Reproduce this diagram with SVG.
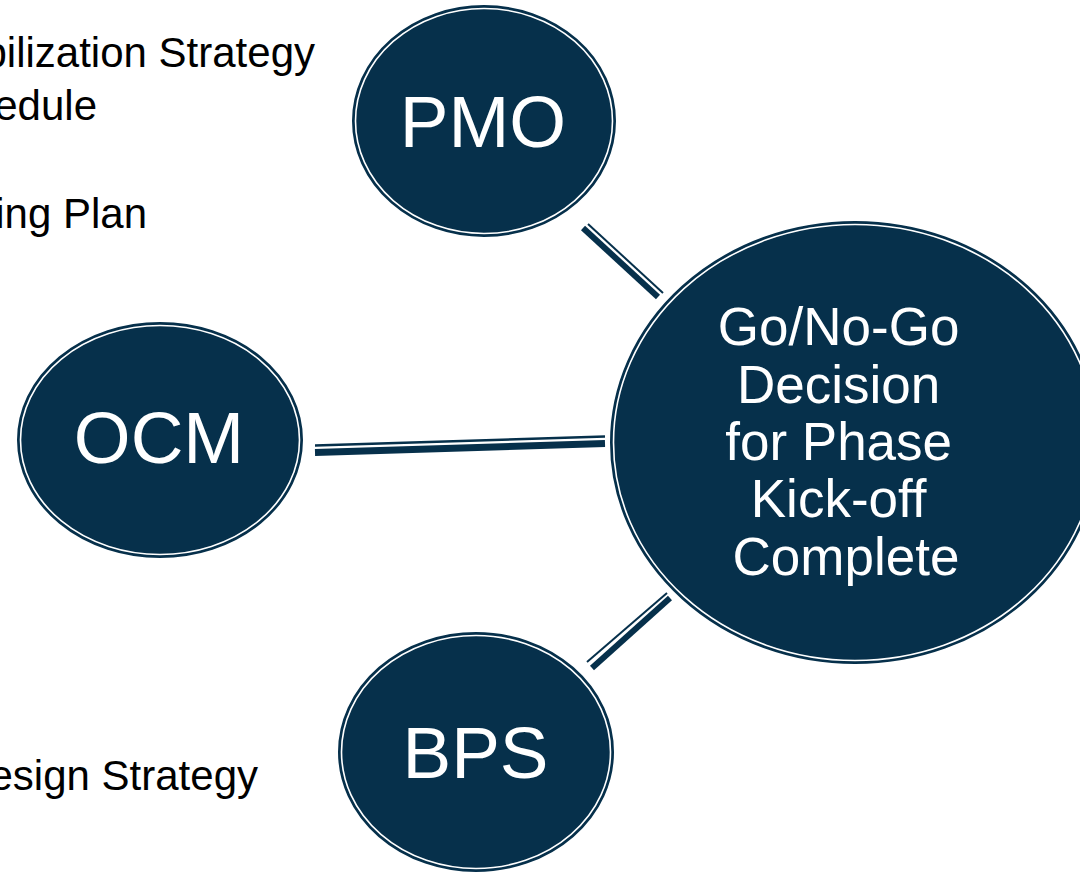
<svg xmlns="http://www.w3.org/2000/svg" width="1080" height="876" viewBox="0 0 1080 876">
<style>
.bg{fill:#ffffff}
.node{fill:#06304b;stroke:#06304b;stroke-width:2}
.ring{fill:none;stroke:#ffffff;stroke-width:1.6}
.lbl{font-family:"Liberation Sans",Arial,sans-serif;fill:#ffffff;text-anchor:middle}
.side{font-family:"Liberation Sans",Arial,sans-serif;fill:#000000;font-size:42px;text-anchor:end}
.thick{stroke:#06304b;stroke-width:6}
.thin{stroke:#06304b;stroke-width:2}
</style>
<rect class="bg" x="0" y="0" width="1080" height="876"/>
<g id="side-text">
<text class="side" x="315" y="67">bilization Strategy</text>
<text class="side" x="97" y="120">edule</text>
<text class="side" x="147" y="228">ing Plan</text>
<text class="side" x="258" y="790">esign Strategy</text>
</g>
<g id="connectors">
<line class="thick" x1="583" y1="228" x2="658" y2="297"/>
<line class="thin" x1="588" y1="224" x2="663" y2="293"/>
<line class="thick" x1="315" y1="452.5" x2="605" y2="443.5" style="stroke-width:7"/>
<line class="thin" x1="315" y1="445.5" x2="605" y2="436.5" style="stroke-width:2.5"/>
<line class="thick" x1="592" y1="668" x2="670" y2="598"/>
<line class="thin" x1="587" y1="662" x2="667" y2="593"/>
</g>
<g id="pmo">
<ellipse class="node" cx="484" cy="121" rx="131" ry="115"/>
<ellipse class="ring" cx="484" cy="121" rx="128.5" ry="112.5"/>
<text class="lbl" x="483" y="147" font-size="73">PMO</text>
</g>
<g id="ocm">
<ellipse class="node" cx="160" cy="440" rx="142" ry="117"/>
<ellipse class="ring" cx="160" cy="440" rx="139.5" ry="114.5"/>
<text class="lbl" x="159" y="463" font-size="73">OCM</text>
</g>
<g id="bps">
<ellipse class="node" cx="476" cy="752" rx="137" ry="119"/>
<ellipse class="ring" cx="476" cy="752" rx="134.5" ry="116.5"/>
<text class="lbl" x="475.5" y="778" font-size="73">BPS</text>
</g>
<g id="decision">
<ellipse class="node" cx="855" cy="442.5" rx="244" ry="220.5"/>
<ellipse class="ring" cx="855" cy="442.5" rx="241.5" ry="218"/>
<text class="lbl" font-size="53">
<tspan x="846" y="345">Go/No-Go</tspan>
<tspan x="846" y="403">Decision</tspan>
<tspan x="846" y="460">for Phase</tspan>
<tspan x="846" y="517">Kick-off</tspan>
<tspan x="846" y="575">Complete</tspan>
</text>
</g>
</svg>
